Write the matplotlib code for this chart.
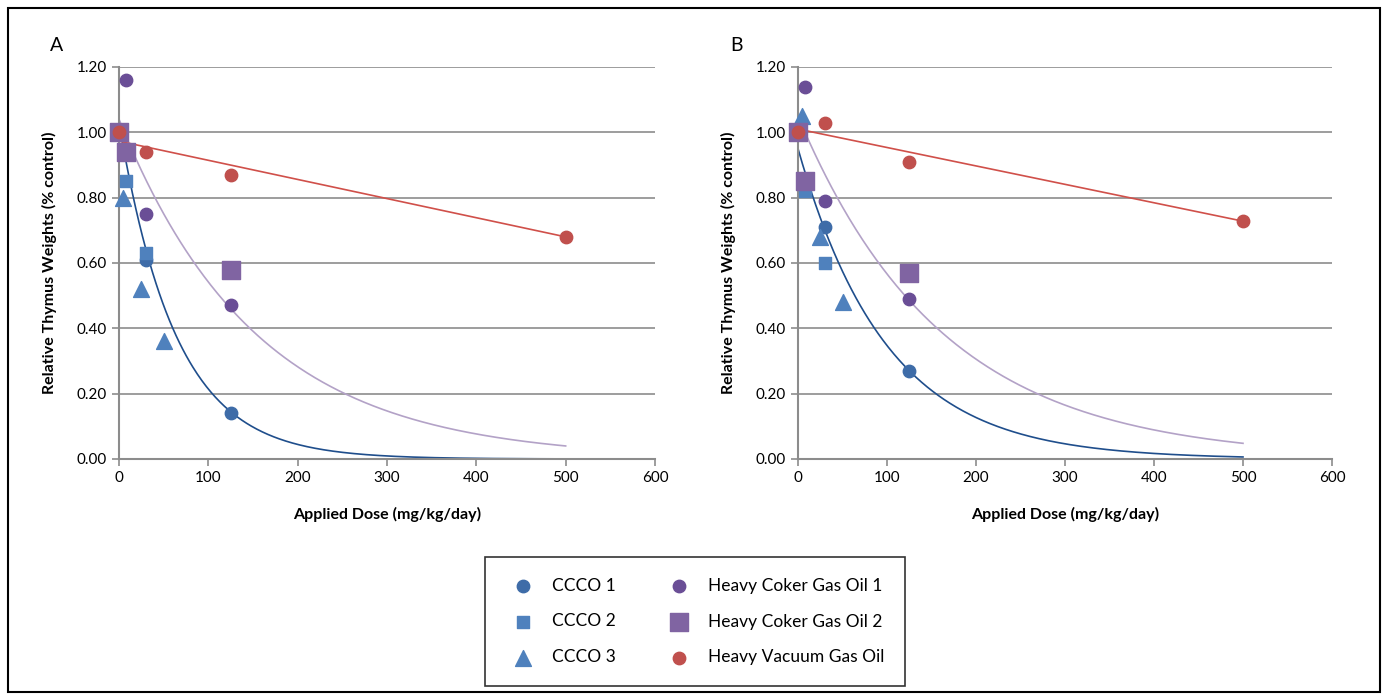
import numpy as np
import matplotlib
matplotlib.use("Agg")
import matplotlib.pyplot as plt
from matplotlib.patches import Rectangle

plt.rcParams['font.family'] = ['Lato', 'DejaVu Sans']

# --- datos ---
# Panel A
a_ccco1_x = [0, 30, 125]
a_ccco1_y = [1.00, 0.61, 0.14]
a_ccco2_x = [0, 8, 30]
a_ccco2_y = [1.00, 0.85, 0.63]
a_ccco3_x = [5, 25, 50]
a_ccco3_y = [0.80, 0.52, 0.36]
a_hcgo1_x = [0, 8, 30, 125]
a_hcgo1_y = [1.00, 1.16, 0.75, 0.47]
a_hcgo2_x = [0, 8, 125]
a_hcgo2_y = [1.00, 0.94, 0.58]
a_hvgo_x = [0, 30, 125, 500]
a_hvgo_y = [1.00, 0.94, 0.87, 0.68]

# Panel B
b_ccco1_x = [0, 30, 125]
b_ccco1_y = [1.00, 0.71, 0.27]
b_ccco2_x = [0, 8, 30]
b_ccco2_y = [1.00, 0.82, 0.60]
b_ccco3_x = [5, 25, 50]
b_ccco3_y = [1.05, 0.68, 0.48]
b_hcgo1_x = [0, 8, 30, 125]
b_hcgo1_y = [1.00, 1.14, 0.79, 0.49]
b_hcgo2_x = [0, 8, 125]
b_hcgo2_y = [1.00, 0.85, 0.57]
b_hvgo_x = [0, 30, 125, 500]
b_hvgo_y = [1.00, 1.03, 0.91, 0.73]

# lineas de tendencia (coeficientes)
a_ccco_exp = (1.03, 0.0157)
a_hcgo_exp = (1.04, 0.00652)
a_hvgo_lin = (0.973, -0.000586)
b_ccco_exp = (0.95, 0.01006)
b_hcgo_exp = (1.05, 0.00617)
b_hvgo_lin = (1.01, -0.000564)

x_ticks = [0, 100, 200, 300, 400, 500, 600]
y_ticks = [0.0, 0.2, 0.4, 0.6, 0.8, 1.0, 1.2]

c_blue_dark = '#3E6CA8'
c_blue = '#4F81BD'
c_purple_dark = '#6A4E96'
c_purple = '#8064A2'
c_red = '#C0504D'
c_trend_blue = '#1F4E8C'
c_trend_purple = '#B3A2C7'
c_trend_red = '#D0504A'

fig = plt.figure(figsize=(13.85, 6.99), dpi=100)
fig.patches.append(Rectangle((8 / 1385, 1 - 692 / 699), (1380 - 8) / 1385, (692 - 8) / 699,
                             transform=fig.transFigure, fill=False, edgecolor='black', lw=1.5))

ax_a = fig.add_axes([119 / 1385, 1 - 459 / 699, 536 / 1385, 392 / 699])
ax_b = fig.add_axes([798 / 1385, 1 - 459 / 699, 534 / 1385, 392 / 699])


def dibujar(ax, datos, tendencias, letra):
    (c1x, c1y), (c2x, c2y), (c3x, c3y), (h1x, h1y), (h2x, h2y), (vx, vy) = datos
    ce, he, vl = tendencias
    xs = np.linspace(0, 500, 400)
    ax.plot(xs, ce[0] * np.exp(-ce[1] * xs), color=c_trend_blue, lw=1.2, zorder=2)
    ax.plot(xs, he[0] * np.exp(-he[1] * xs), color=c_trend_purple, lw=1.2, zorder=2)
    ax.plot(xs, vl[0] + vl[1] * xs, color=c_trend_red, lw=1.2, zorder=2)

    h = []
    h.append(ax.scatter(c1x, c1y, marker='o', s=80, color=c_blue_dark, zorder=3, label='CCCO 1', clip_on=False))
    h.append(ax.scatter(c2x, c2y, marker='s', s=70, color=c_blue, zorder=3, label='CCCO 2', clip_on=False))
    h.append(ax.scatter(c3x, c3y, marker='^', s=130, color=c_blue, zorder=3, label='CCCO 3', clip_on=False))
    h.append(ax.scatter(h1x, h1y, marker='o', s=80, color=c_purple_dark, zorder=3,
                        label='Heavy Coker Gas Oil 1', clip_on=False))
    h.append(ax.scatter(h2x, h2y, marker='s', s=170, color=c_purple, zorder=3,
                        label='Heavy Coker Gas Oil 2', clip_on=False))
    h.append(ax.scatter(vx, vy, marker='o', s=80, color=c_red, zorder=4,
                        label='Heavy Vacuum Gas Oil', clip_on=False))

    ax.set_xlim(0, 600)
    ax.set_ylim(0, 1.2)
    ax.set_xticks(x_ticks)
    ax.set_yticks(y_ticks)
    ax.set_yticklabels([f'{v:.2f}' for v in y_ticks])
    ax.grid(axis='y', color='#8C8C8C', lw=1.2)
    ax.set_axisbelow(True)
    for s in ['top', 'right']:
        ax.spines[s].set_visible(False)
    for s in ['left', 'bottom']:
        ax.spines[s].set_color('#8C8C8C')
        ax.spines[s].set_linewidth(1.5)
    ax.tick_params(axis='both', colors='#8C8C8C', labelcolor='black', labelsize=11, length=5, width=1.2)
    ax.set_xlabel('Applied Dose (mg/kg/day)', fontsize=11.5, fontweight='bold', labelpad=16)
    ax.set_ylabel('Relative Thymus Weights (% control)', fontsize=11.5, fontweight='bold', labelpad=14)
    ax.text(-0.116, 1.054, letra, transform=ax.transAxes, fontsize=14, ha='center', va='center')
    return h


handles = dibujar(ax_a,
                  [(a_ccco1_x, a_ccco1_y), (a_ccco2_x, a_ccco2_y), (a_ccco3_x, a_ccco3_y),
                   (a_hcgo1_x, a_hcgo1_y), (a_hcgo2_x, a_hcgo2_y), (a_hvgo_x, a_hvgo_y)],
                  [a_ccco_exp, a_hcgo_exp, a_hvgo_lin], 'A')
dibujar(ax_b,
        [(b_ccco1_x, b_ccco1_y), (b_ccco2_x, b_ccco2_y), (b_ccco3_x, b_ccco3_y),
         (b_hcgo1_x, b_hcgo1_y), (b_hcgo2_x, b_hcgo2_y), (b_hvgo_x, b_hvgo_y)],
        [b_ccco_exp, b_hcgo_exp, b_hvgo_lin], 'B')

leg = fig.legend(handles=handles, ncol=2, loc='center',
                 bbox_to_anchor=(695 / 1385, 1 - 621.5 / 699),
                 fontsize=12.5, frameon=True, fancybox=False, edgecolor='black',
                 borderpad=1.2, labelspacing=1.15, columnspacing=2.6, handletextpad=0.7,
                 borderaxespad=0)
leg.get_frame().set_linewidth(1.2)

fig.savefig('out.png', dpi=100)
